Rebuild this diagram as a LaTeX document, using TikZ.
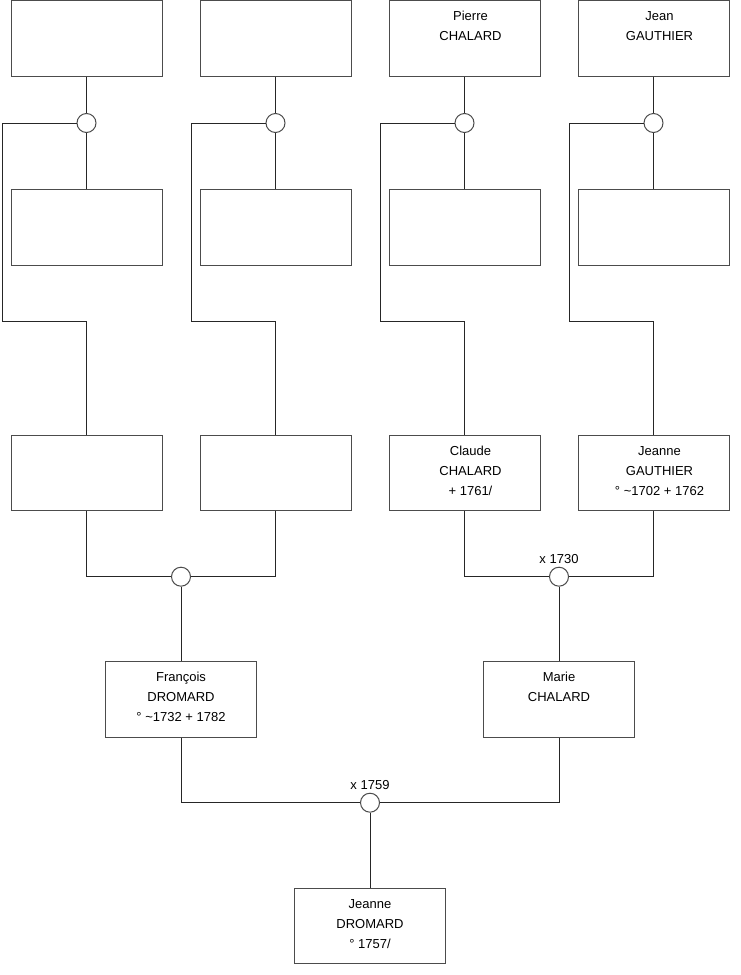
\documentclass[tikz,border=0pt]{standalone}
\usepackage{fontspec}
\setmainfont{Liberation Sans}
\newcommand{\firststrut}{\rule{0pt}{11pt}}
\begin{document}
\begin{tikzpicture}[x=1pt,y=-1pt,
  person/.style={draw=black!70, line width=1pt, fill=white, minimum width=151pt, minimum height=75.5pt, inner sep=0pt},
  ptext/.style={anchor=north, align=center, inner sep=0pt, font=\fontsize{13pt}{20pt}\selectfont},
  union/.style={circle, draw=black!70, line width=1pt, fill=white, minimum size=19pt, inner sep=0pt},
  wlabel/.style={anchor=south, inner sep=0pt, yshift=3pt, font=\fontsize{13pt}{20pt}\selectfont},
  link/.style={draw=black!85, line width=1pt}]
\useasboundingbox (0,0) rectangle (740,975);
% row 1
\node[person] (p1) at (86.5,38.25) {};
\node[person] (p2) at (275.5,38.25) {};
\node[person] (p3) at (464.5,38.25) {};
\node[person] (p4) at (653.5,38.25) {};
% row 2
\node[person] (q1) at (86.5,227.3) {};
\node[person] (q2) at (275.5,227.3) {};
\node[person] (q3) at (464.5,227.3) {};
\node[person] (q4) at (653.5,227.3) {};
% row 3
\node[person] (r1) at (86.5,472.8) {};
\node[person] (r2) at (275.5,472.8) {};
\node[person] (r3) at (464.5,472.8) {};
\node[person] (r4) at (653.5,472.8) {};
% row 4
\node[person] (s1) at (181,699.3) {};
\node[person] (s2) at (559,699.3) {};
% row 5
\node[person] (t1) at (370,926) {};
% unions
\node[union] (u1) at (86.5,123) {};
\node[union] (u2) at (275.5,123) {};
\node[union] (u3) at (464.5,123) {};
\node[union] (u4) at (653.5,123) {};
\node[union] (u5) at (181,576.7) {};
\node[union] (u6) at (559,576.7) {};
\node[union] (u7) at (370,802.7) {};
\node[wlabel] (m6) at (u6.north) {x 1730};
\node[wlabel] (m7) at (u7.north) {x 1759};
% corner coordinates
\coordinate (k1) at (2,321);
\coordinate (k2) at (191,321);
\coordinate (k3) at (380,321);
\coordinate (k4) at (569,321);
% connectors
\foreach \i in {1,2,3,4}{
  \draw[link] (p\i.south) -- (u\i.north);
  \draw[link] (u\i.south) -- (q\i.north);
  \draw[link] (u\i.west) -| (k\i) -| (r\i.north);
}
\draw[link] (r1.south) |- (u5.west);
\draw[link] (r2.south) |- (u5.east);
\draw[link] (u5.south) -- (s1.north);
\draw[link] (r3.south) |- (u6.west);
\draw[link] (r4.south) |- (u6.east);
\draw[link] (u6.south) -- (s2.north);
\draw[link] (s1.south) |- (u7.west);
\draw[link] (s2.south) |- (u7.east);
\draw[link] (u7.south) -- (t1.north);
% texts
\node[ptext] (tp3) at ([xshift=6pt,yshift=-9.7pt]p3.north) {\firststrut Pierre\\CHALARD};
\node[ptext] (tp4) at ([xshift=6pt,yshift=-9.7pt]p4.north) {\firststrut Jean\\GAUTHIER};
\node[ptext] (tr3) at ([xshift=6pt,yshift=-9.7pt]r3.north) {\firststrut Claude\\CHALARD\\+ 1761/};
\node[ptext] (tr4) at ([xshift=6pt,yshift=-9.7pt]r4.north) {\firststrut Jeanne\\GAUTHIER\\° \textasciitilde1702 + 1762};
\node[ptext] (ts1) at ([yshift=-9.7pt]s1.north) {\firststrut François\\DROMARD\\° \textasciitilde1732 + 1782};
\node[ptext] (ts2) at ([yshift=-9.7pt]s2.north) {\firststrut Marie\\CHALARD};
\node[ptext] (tt1) at ([yshift=-9.7pt]t1.north) {\firststrut Jeanne\\DROMARD\\° 1757/};
\end{tikzpicture}
\end{document}
